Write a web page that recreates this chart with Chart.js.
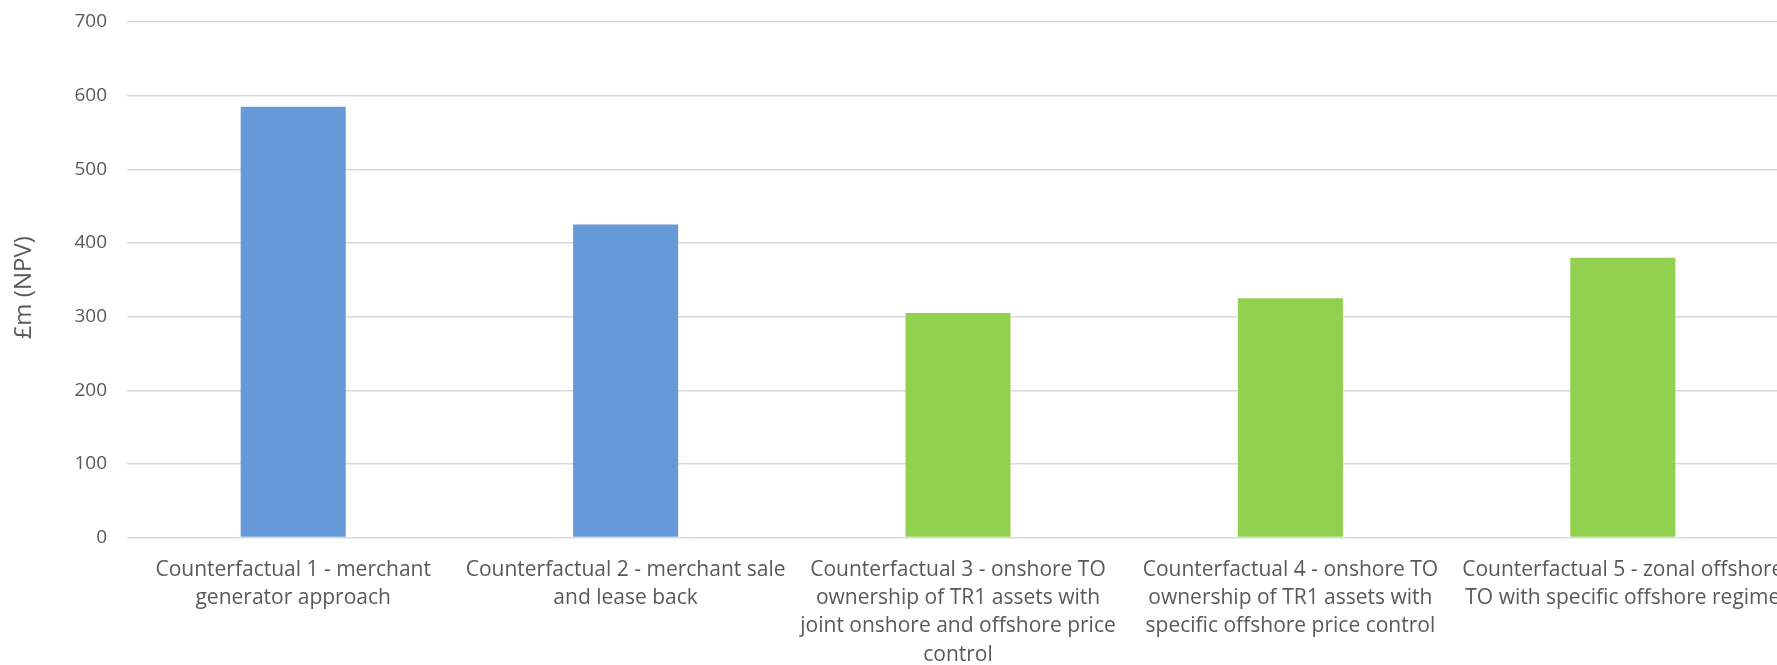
<!DOCTYPE html>
<html>
<head>
<meta charset="utf-8">
<script src="https://cdn.jsdelivr.net/npm/chart.js@4/dist/chart.umd.min.js"></script>
<style>
html, body { margin: 0; padding: 0; overflow: hidden; background: #ffffff; }
canvas { display: block; }
</style>
</head>
<body>
<canvas id="chart" width="1800" height="679"></canvas>
<script>
const categories = [
  ["Counterfactual 1 - merchant", "generator approach"],
  ["Counterfactual 2 - merchant sale", "and lease back"],
  ["Counterfactual 3 - onshore TO", "ownership of TR1 assets with", "joint onshore and offshore price", "control"],
  ["Counterfactual 4 - onshore TO", "ownership of TR1 assets with", "specific offshore price control"],
  ["Counterfactual 5 - zonal offshore", "TO with specific offshore regime"]
];
const npvValues = [585, 425, 305, 325, 380];
const barColors = ["#6699D8", "#6699D8", "#92D050", "#92D050", "#92D050"];
const yMin = 0;
const yMax = 700;
const yStep = 100;
const yTitle = "£m (NPV)";

Chart.defaults.font.family = "'Open Sans', sans-serif";

// shifts the y-axis title slightly downward (as in the reference) while drawing
const titleShift = {
  id: 'titleShift',
  beforeDraw(chart) { const s = chart.scales.y; s.top += 8; s.bottom += 8; },
  afterDraw(chart) { const s = chart.scales.y; s.top -= 8; s.bottom -= 8; }
};

new Chart(document.getElementById('chart'), {
  type: 'bar',
  data: {
    labels: categories,
    datasets: [{
      data: npvValues,
      backgroundColor: barColors,
      borderWidth: 0,
      barPercentage: 0.316,
      categoryPercentage: 1
    }]
  },
  plugins: [titleShift],
  options: {
    responsive: false,
    animation: false,
    devicePixelRatio: 1,
    layout: { padding: { top: 22, right: 11, left: 0, bottom: 0 } },
    plugins: { legend: { display: false }, tooltip: { enabled: false } },
    scales: {
      x: {
        grid: { display: false },
        border: { display: false },
        ticks: {
          color: '#595959',
          font: { size: 21, lineHeight: 1.35 },
          padding: 10,
          maxRotation: 0,
          minRotation: 0,
          autoSkip: false
        }
      },
      y: {
        min: yMin,
        max: yMax,
        border: { display: false },
        grid: { color: '#D9D9D9', lineWidth: 1.5, drawTicks: false },
        ticks: {
          stepSize: yStep,
          color: '#595959',
          font: { size: 19 },
          padding: 20
        },
        title: {
          display: true,
          text: yTitle,
          color: '#595959',
          font: { size: 24 },
          padding: { top: 10, bottom: 0 }
        },
        afterFit: (scale) => { scale.width = 127; scale.paddingTop = 0; }
      }
    }
  }
});
</script>
</body>
</html>
